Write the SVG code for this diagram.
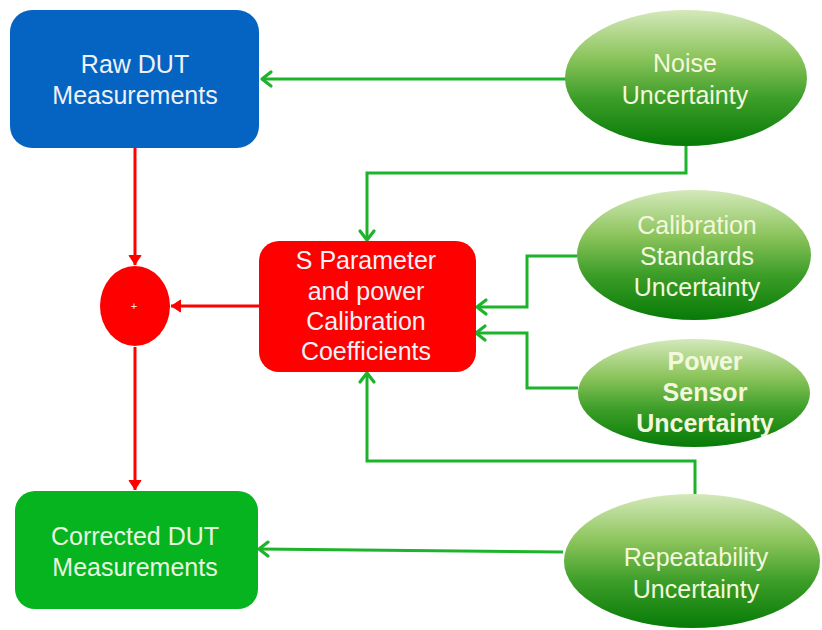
<svg xmlns="http://www.w3.org/2000/svg" width="822" height="630" viewBox="0 0 822 630">
<defs>
<linearGradient id="eg" x1="0" y1="0" x2="0" y2="1">
<stop offset="0" stop-color="#d4e9ba"/>
<stop offset="0.35" stop-color="#8cc45c"/>
<stop offset="0.65" stop-color="#3c9e28"/>
<stop offset="1" stop-color="#077a07"/>
</linearGradient>
<marker id="ag" viewBox="0 0 14 18" refX="11" refY="9" markerWidth="14" markerHeight="18" markerUnits="userSpaceOnUse" orient="auto" overflow="visible">
<path d="M2,2 L11,9 L2,16" fill="none" stroke="#1db32a" stroke-width="3.2" stroke-linecap="round" stroke-linejoin="round"/>
</marker>
<marker id="ar" viewBox="0 0 12 16" refX="10.5" refY="8" markerWidth="12" markerHeight="16" markerUnits="userSpaceOnUse" orient="auto">
<path d="M1,2 L10,8 L1,14 Z" fill="#ff0000" stroke="#ff0000" stroke-width="1"/>
</marker>
</defs>
<style>
text{font-family:"Liberation Sans",Arial,sans-serif;font-size:25px;text-anchor:middle}
.bt{fill:#eef2f8}
.et{fill:#f3f8dc}
.ell{fill:url(#eg)}
.g{fill:none;stroke:#1db32a;stroke-width:3;marker-end:url(#ag)}
.r{fill:none;stroke:#ff0000;stroke-width:3;marker-end:url(#ar)}
</style>
<rect width="822" height="630" fill="#ffffff"/>
<g id="connectors">
<path class="g" d="M567,79 L262,79"/>
<path class="g" d="M686,146 L686,173 L367,173 L367,240"/>
<path class="g" d="M577,256 L527,256 L527,307 L477,307"/>
<path class="g" d="M578,388 L527,388 L527,333 L476,333"/>
<path class="g" d="M695,494 L695,461 L367,461 L367,373"/>
<path class="g" d="M563,552 L259,549"/>
<path class="r" d="M135,148 L135,265"/>
<path class="r" d="M259,306 L171,306"/>
<path class="r" d="M135,347 L135,490"/>
</g>
<g id="raw">
<rect x="10" y="10" width="249" height="138" rx="22" fill="#0563c1"/>
<text class="bt" x="135" y="73">Raw DUT</text>
<text class="bt" x="135" y="104">Measurements</text>
</g>
<g id="sparam">
<rect x="259" y="241" width="217" height="131" rx="20" fill="#ff0000"/>
<text class="bt" x="366" y="269">S Parameter</text>
<text class="bt" x="366" y="300">and power</text>
<text class="bt" x="366" y="330">Calibration</text>
<text class="bt" x="366" y="360">Coefficients</text>
</g>
<g id="sum">
<ellipse cx="135" cy="306" rx="35" ry="40" fill="#ff0000"/>
<text x="134" y="310" style="font-size:11px;fill:#ffe0e0">+</text>
</g>
<g id="corrected">
<rect x="15" y="491" width="243" height="118" rx="20" fill="#05b41e"/>
<text class="bt" x="135" y="545" style="fill:#e8f6e0">Corrected DUT</text>
<text class="bt" x="135" y="576" style="fill:#e8f6e0">Measurements</text>
</g>
<g id="noise">
<ellipse class="ell" cx="686" cy="78" rx="121" ry="68"/>
<text class="et" x="685" y="72">Noise</text>
<text class="et" x="685" y="104">Uncertainty</text>
</g>
<g id="calstd">
<ellipse class="ell" cx="694" cy="255" rx="117" ry="65"/>
<text class="et" x="697" y="234">Calibration</text>
<text class="et" x="697" y="265">Standards</text>
<text class="et" x="697" y="296">Uncertainty</text>
</g>
<g id="power">
<ellipse class="ell" cx="694" cy="393" rx="116" ry="54"/>
<text class="et" x="705" y="370" style="font-weight:bold">Power</text>
<text class="et" x="705" y="401" style="font-weight:bold">Sensor</text>
<text class="et" x="705" y="432" style="font-weight:bold">Uncertainty</text>
</g>
<g id="repeat">
<ellipse class="ell" cx="692" cy="561" rx="128" ry="67"/>
<text class="et" x="696" y="566">Repeatability</text>
<text class="et" x="696" y="598">Uncertainty</text>
</g>
</svg>
